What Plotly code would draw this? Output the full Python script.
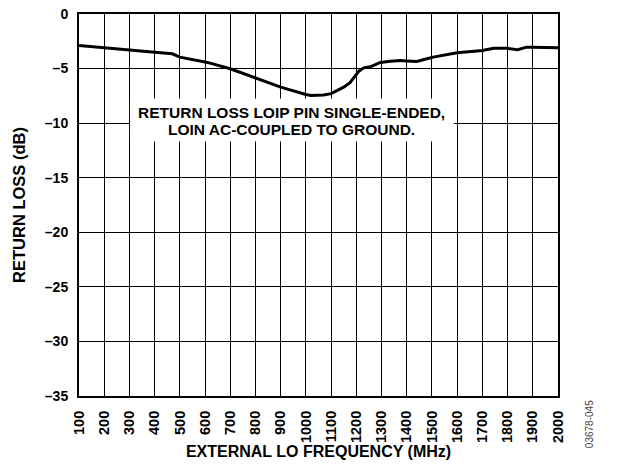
import plotly.graph_objects as go

freq = [100, 200, 300, 370, 400, 470, 500, 600, 620, 700, 800, 900, 1000, 1020,
        1070, 1100, 1150, 1175, 1210, 1230, 1260, 1295, 1335, 1375, 1400, 1440,
        1480, 1505, 1600, 1700, 1745, 1795, 1840, 1875, 1900, 2000]
return_loss = [-2.88, -3.07, -3.25, -3.43, -3.5, -3.65, -3.95, -4.4, -4.5, -5.02,
               -5.85, -6.7, -7.37, -7.46, -7.42, -7.3, -6.7, -6.3, -5.24, -4.93,
               -4.8, -4.44, -4.32, -4.26, -4.3, -4.35, -4.1, -3.95, -3.55, -3.34,
               -3.13, -3.13, -3.28, -3.04, -3.04, -3.1]

x_ticks = list(range(100, 2001, 100))
y_ticks = [0, -5, -10, -15, -20, -25, -30, -35]
y_ticktext = ["0" if v == 0 else "\u2013" + str(-v) for v in y_ticks]

note_line1 = "RETURN LOSS LOIP PIN SINGLE-ENDED,"
note_line2 = "LOIN AC-COUPLED TO GROUND."

FONT = "Liberation Sans, Arial, sans-serif"

fig = go.Figure()
fig.add_trace(go.Scatter(x=freq, y=return_loss, mode="lines",
                         line=dict(color="black", width=3), hoverinfo="skip"))

fig.add_shape(type="rect", xref="x", yref="y", x0=302, x1=1587, y0=-11.68, y1=-7.74,
              fillcolor="white", line=dict(width=0), layer="above")
note_font = dict(family=FONT, size=15.5, color="black", weight="bold")
fig.add_annotation(x=(302 + 1587) / 2, y=-9.0, xref="x", yref="y", text=note_line1,
                   showarrow=False, font=note_font)
fig.add_annotation(x=(302 + 1587) / 2, y=-10.55, xref="x", yref="y", text=note_line2,
                   showarrow=False, font=note_font)

fig.add_annotation(x=1.065, y=0.0, xref="paper", yref="paper", text="03678-045",
                   showarrow=False, textangle=-90, xanchor="center", yanchor="top",
                   yshift=-2, font=dict(family=FONT, size=10, color="#444444"))

fig.update_xaxes(range=[100, 2000], tickmode="array", tickvals=x_ticks,
                 ticktext=[str(v) for v in x_ticks],
                 tickangle=-90, showgrid=True, gridcolor="#000000", gridwidth=1.3,
                 griddash="solid", ticklabeloverflow="allow",
                 showline=True, linecolor="black", linewidth=2, mirror=True,
                 zeroline=False, automargin=False, ticklabelstandoff=7,
                 tickfont=dict(family=FONT, size=14.5, color="black", weight="bold"),
                 title=dict(text="EXTERNAL LO FREQUENCY (MHz)", standoff=0,
                            font=dict(family=FONT, size=16, color="black", weight="bold")))
fig.update_yaxes(range=[-35, 0], tickmode="array", tickvals=y_ticks, ticktext=y_ticktext,
                 showgrid=True, gridcolor="#000000", gridwidth=1.3, griddash="solid",
                 ticklabeloverflow="allow",
                 showline=True, linecolor="black", linewidth=2, mirror=True,
                 zeroline=False, automargin=False, ticklabelstandoff=6,
                 tickfont=dict(family=FONT, size=14, color="black", weight="bold"),
                 title=dict(text="RETURN LOSS (dB)", standoff=15,
                            font=dict(family=FONT, size=16.5, color="black", weight="bold")))

fig.update_layout(width=621, height=465, showlegend=False, hovermode=False,
                  margin=dict(l=79, r=63, t=14, b=69),
                  paper_bgcolor="white", plot_bgcolor="white")

fig.write_html("out.html", config={"displayModeBar": False},
               post_script="document.body.style.margin='0';document.body.style.padding='0';")
